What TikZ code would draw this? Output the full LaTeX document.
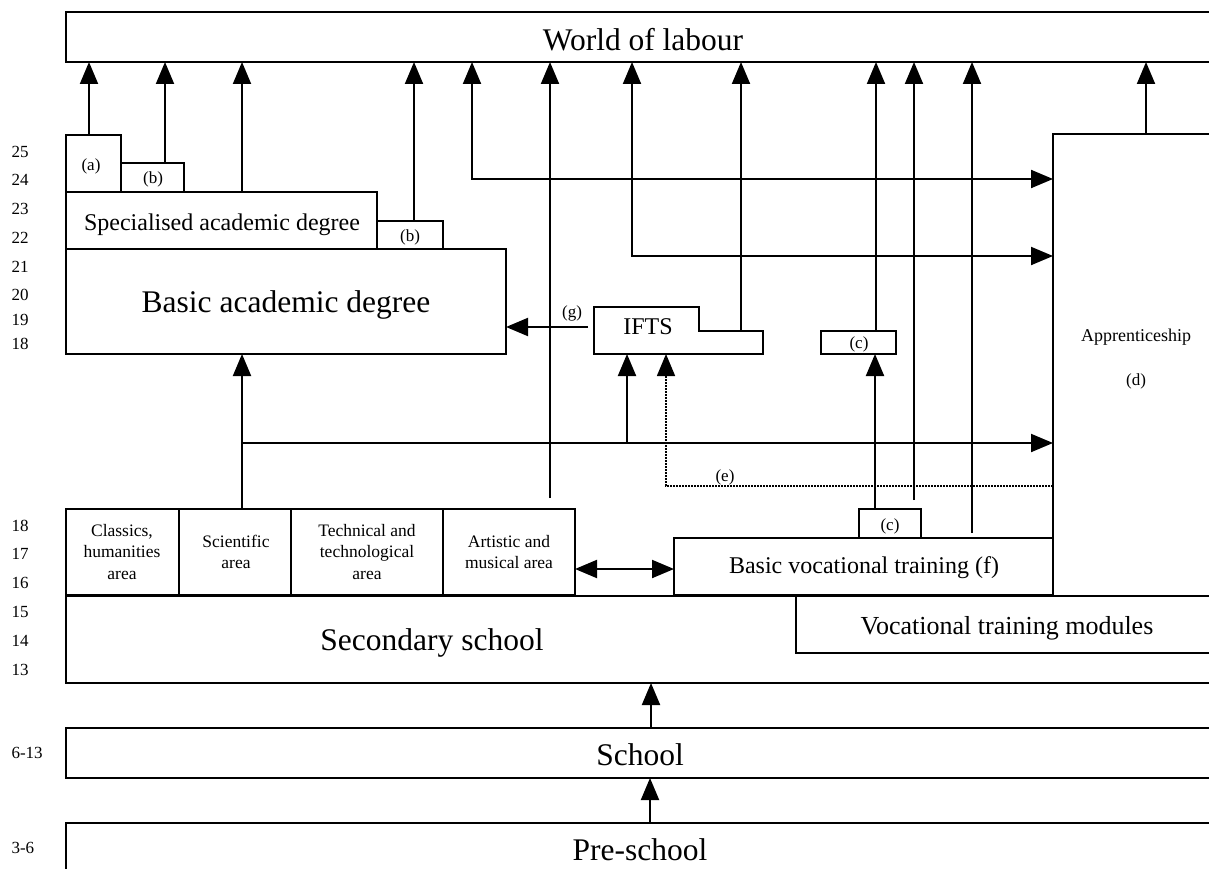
\documentclass[tikz,border=0pt]{standalone}
\usepackage{fontspec}
\setmainfont{Liberation Serif}
\usetikzlibrary{arrows.meta}
\begin{document}
\begin{tikzpicture}[x=1pt,y=-1pt,
  box/.style={draw, line width=1.4pt, inner sep=0pt, outer sep=0pt, anchor=north west},
  arr/.style={line width=2pt, -{Triangle[length=22pt,width=18pt]}},
  arrboth/.style={line width=2pt, {Triangle[length=22pt,width=18pt]}-{Triangle[length=22pt,width=18pt]}},
  dotarr/.style={line width=1.6pt, dash pattern=on 1.6pt off 1.4pt, -{Triangle[length=22pt,width=18pt]}},
  big/.style={font=\fontsize{31.5}{36}\selectfont},
  mid/.style={font=\fontsize{24}{28}\selectfont},
  vtm/.style={font=\fontsize{26}{30}\selectfont},
  sm/.style={font=\fontsize{17}{20}\selectfont},
  age/.style={font=\fontsize{17}{20}\selectfont, anchor=west},
  area/.style={font=\fontsize{17.5}{21.7}\selectfont, align=center}
]
\useasboundingbox (0,0) rectangle (1209,869);
\clip (0,0) rectangle (1209,869);

% ---- boxes ----
\node[box, minimum width=1149pt, minimum height=50pt] (world) at (66,12) {};
\node[big] (worldT) at (643,40) {World of labour};

\node[box, minimum width=55pt, minimum height=57pt] (a) at (66,135) {};
\node[sm] (aT) at (91,166) {(a)};
\node[box, minimum width=63pt, minimum height=29pt] (b1) at (121,163) {};
\node[sm] (b1T) at (153,179) {(b)};
\node[box, minimum width=311pt, minimum height=57pt] (spec) at (66,192) {};
\node[mid] (specT) at (222,225) {Specialised academic degree};
\node[box, minimum width=66pt, minimum height=28pt] (b2) at (377,221) {};
\node[sm] (b2T) at (410,237) {(b)};
\node[box, minimum width=440pt, minimum height=105pt] (basic) at (66,249) {};
\node[big] (basicT) at (286,305) {Basic academic degree};

% IFTS
\draw[line width=1.4pt] (594,307) -- (699,307) -- (699,331) -- (763,331) -- (763,354) -- (594,354) -- cycle;
\node[mid] (ifts) at (648,327) {IFTS};
\coordinate (iftsW) at (594,327);
\coordinate (iftsS) at (594,354);
\coordinate (iftsStep) at (741,331);

\node[box, minimum width=75pt, minimum height=23pt] (cup) at (821,331) {};
\node[sm] (cupT) at (859,344) {(c)};

\node[box, minimum width=162pt, minimum height=462pt] (appr) at (1053,134) {};
\node[font=\fontsize{18}{21}\selectfont] (apprT) at (1136,337) {Apprenticeship};
\node[sm] (dT) at (1136,381) {(d)};

% areas
\node[box, minimum width=113pt, minimum height=86pt] (cla) at (66,509) {};
\node[area] (claT) at (122,552) {Classics,\\humanities\\area};
\node[box, minimum width=112pt, minimum height=86pt] (sci) at (179,509) {};
\node[area] (sciT) at (236,552) {Scientific\\area};
\node[box, minimum width=152pt, minimum height=86pt] (tec) at (291,509) {};
\node[area] (tecT) at (367,552) {Technical and\\technological\\area};
\node[box, minimum width=132pt, minimum height=86pt] (art) at (443,509) {};
\node[area] (artT) at (509,552) {Artistic and\\musical area};

\node[box, minimum width=62pt, minimum height=29pt] (clow) at (859,509) {};
\node[sm] (clowT) at (890,526) {(c)};
\node[box, minimum width=379pt, minimum height=57pt] (bvt) at (674,538) {};
\node[mid] (bvtT) at (864,568) {Basic vocational training (f)};

\node[box, minimum width=1149pt, minimum height=87pt] (sec) at (66,596) {};
\node[big] (secT) at (432,643) {Secondary school};
\node[box, minimum width=419pt, minimum height=57pt] (vtm) at (796,596) {};
\node[vtm] (vtmT) at (1007,628) {Vocational training modules};

\node[box, minimum width=1149pt, minimum height=50pt] (school) at (66,728) {};
\node[big] (schoolT) at (640,755) {School};
\node[box, minimum width=1149pt, minimum height=55pt] (pre) at (66,823) {};
\node[big] (preT) at (640,850) {Pre-school};

% ---- ages ----
\foreach \t/\y in {25/152,24/180,23/209,22/238,21/267,20/295,19/320,18/344,
                   18/526,17/554,16/583,15/612,14/641,13/670,6-13/753,3-6/848}
  \node[age] at (8,\y) {\t};

% ---- connectors ----
\draw[arr] (a.north -| 89,0) -- (world.south -| 89,0);
\draw[arr] (b1.north -| 165,0) -- (world.south -| 165,0);
\draw[arr] (spec.north -| 242,0) -- (world.south -| 242,0);
\draw[arr] (b2.north -| 414,0) -- (world.south -| 414,0);
\draw[arrboth] (world.south -| 472,0) |- (appr.west |- 0,179);
\coordinate (artTop) at (550,498);
\draw[arr] (artTop) -- (world.south -| artTop);
\draw[arrboth] (world.south -| 632,0) |- (appr.west |- 0,256);
\draw[arr] (iftsStep) -- (world.south -| iftsStep);
\draw[arr] (cup.north -| 876,0) -- (world.south -| 876,0);
\draw[arr] (clow.north -| 875,0) -- (cup.south -| 875,0);
\coordinate (l914) at (914,500);
\draw[arr] (l914) -- (world.south -| l914);
\coordinate (l972) at (972,533);
\draw[arr] (l972) -- (world.south -| l972);
\draw[arr] (appr.north -| 1146,0) -- (world.south -| 1146,0);

\draw[arr] (sci.north -| 242,0) -- (basic.south -| 242,0);
\coordinate (j1) at (242,443);
\draw[arr] (j1) -- (appr.west |- j1);
\coordinate (j2) at (627,443);
\draw[arr] (j2) -- (iftsS -| j2);
\draw[dotarr] (appr.west |- 0,486) -| (iftsS -| 666,0);
\node[sm] (eT) at (725,477) {(e)};

\draw[arr] ([xshift=-6pt]iftsW) -- (basic.east |- iftsW);
\node[sm] (gT) at (572,313) {(g)};

\draw[arrboth] (art.east |- 0,569) -- (bvt.west |- 0,569);

\draw[arr] (school.north -| 651,0) -- (sec.south -| 651,0);
\draw[arr] (pre.north -| 650,0) -- (school.south -| 650,0);
\end{tikzpicture}
\end{document}
